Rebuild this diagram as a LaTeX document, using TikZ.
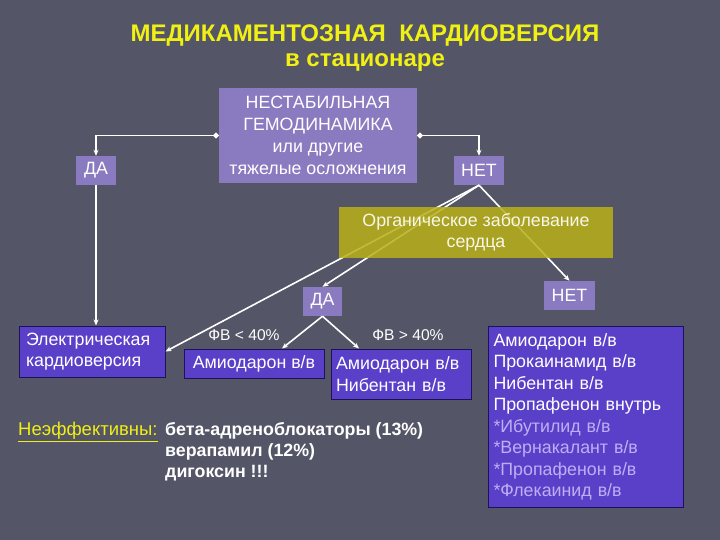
\documentclass[tikz,border=0pt]{standalone}
\usepackage{fontspec}
\setmainfont{Liberation Sans}
\usepackage{xcolor}
\usetikzlibrary{shapes,arrows.meta,positioning}

\definecolor{slide}{RGB}{84,85,102}
\definecolor{lavender}{RGB}{138,122,191}
\definecolor{violet}{RGB}{90,64,200}
\definecolor{navy}{RGB}{28,18,90}
\definecolor{olive}{RGB}{184,176,24}
\definecolor{titleyellow}{RGB}{240,240,20}
\definecolor{paletext}{RGB}{190,175,245}

\begin{document}
\begin{tikzpicture}[
    x=1pt, y=-1pt,
    every node/.style={font=\fontsize{17.8}{21.5}\selectfont, text=white, inner sep=3pt},
    question/.style={rectangle, fill=lavender, align=center},
    drug/.style={rectangle, fill=violet, draw=navy, line width=1pt, align=left},
    link/.style={-{Stealth[length=6pt,width=5pt]}, white, line width=1.6pt},
    dotlink/.style={{Circle[length=5.5pt]}-{Stealth[length=6pt,width=5pt]}, white, line width=1.6pt}
]
    \useasboundingbox[fill=slide] (0,0) rectangle (720,540);

    % title
    \node[text=titleyellow, font=\fontsize{24}{28}\bfseries\selectfont] (title) at (365,36) {МЕДИКАМЕНТОЗНАЯ\ \ КАРДИОВЕРСИЯ};
    \node[text=titleyellow, font=\fontsize{24}{28}\bfseries\selectfont] (subtitle) at (365,63) {в стационаре};

    % first question
    \node[question, minimum width=198pt, minimum height=95pt, font=\fontsize{17.8}{22}\selectfont] (unstable) at (318,135.5) {НЕСТАБИЛЬНАЯ\\ГЕМОДИНАМИКА\\или другие\\тяжелые осложнения};
    \node[question, minimum width=40pt, minimum height=29pt] (yes1) at (96,170.5) {ДА};
    \node[question, minimum width=50pt, minimum height=29pt] (no1) at (479,170.5) {НЕТ};

    % second level
    \node[question, minimum width=39pt, minimum height=29pt] (yes2) at (322.5,301.5) {ДА};
    \node[question, minimum width=51pt, minimum height=29pt] (no2) at (569.5,295.5) {НЕТ};

    % treatment boxes
    \node[drug, minimum width=146pt, minimum height=51pt, text width=132pt] (elec) at (92,351.5) {Электрическая\\кардиоверсия};
    \node[drug, minimum width=140pt, minimum height=29pt, align=center] (amio1) at (254,363.5) {Амиодарон в/в};
    \node[drug, minimum width=140pt, minimum height=50pt, text width=130pt] (amio2) at (401,374) {Амиодарон в/в\\Нибентан в/в};
    \node[drug, anchor=north west, minimum width=195pt, minimum height=181pt, text width=185pt, inner sep=5pt] (list) at (488,326) {Амиодарон в/в\\Прокаинамид в/в\\Нибентан в/в\\Пропафенон внутрь\\
        \textcolor{paletext}{*Ибутилид в/в}\\\textcolor{paletext}{*Вернакалант в/в}\\\textcolor{paletext}{*Пропафенон в/в}\\\textcolor{paletext}{*Флекаинид в/в}};

    % ejection fraction labels
    \node[font=\fontsize{15.6}{18}\selectfont] (lowef) at (244,335) {ФВ < 40\%};
    \node[font=\fontsize{15.6}{18}\selectfont] (highef) at (408,335) {ФВ > 40\%};

    % connectors
    \draw[dotlink] (unstable.west) -| (yes1.north);
    \draw[dotlink] (unstable.east) -| (no1.north);
    \draw[link] (yes1.south) -- (yes1.south |- elec.north);
    \draw[link] (no1.south) -- (yes2.north);
    \draw[link] (no1.south) -- (elec.east);
    \draw[link] (no1.south) -- (no2.north);
    \draw[link] (yes2.south) -- ([xshift=28pt]amio1.north);
    \draw[link] (yes2.south) -- ([xshift=-42pt]amio2.north);

    % organic disease box over the lines
    \node[rectangle, fill=olive, fill opacity=0.85, text opacity=1, text=white!90!olive, align=center, minimum width=274pt, minimum height=51pt] (organic) at (476,232.5) {Органическое заболевание\\сердца};

    % ineffective drugs
    \node[anchor=west, text=titleyellow, inner sep=0pt, font=\fontsize{18.5}{21.5}\selectfont] (ineff) at (18,432) {\underline{Неэффективны:}};
    \node[anchor=north west, align=left, inner sep=0pt, font=\fontsize{17.8}{21}\bfseries\selectfont] (ineffdrugs) at (165,422) {бета-адреноблокаторы (13\%)\\верапамил (12\%)\\дигоксин !!!};
\end{tikzpicture}
\end{document}
